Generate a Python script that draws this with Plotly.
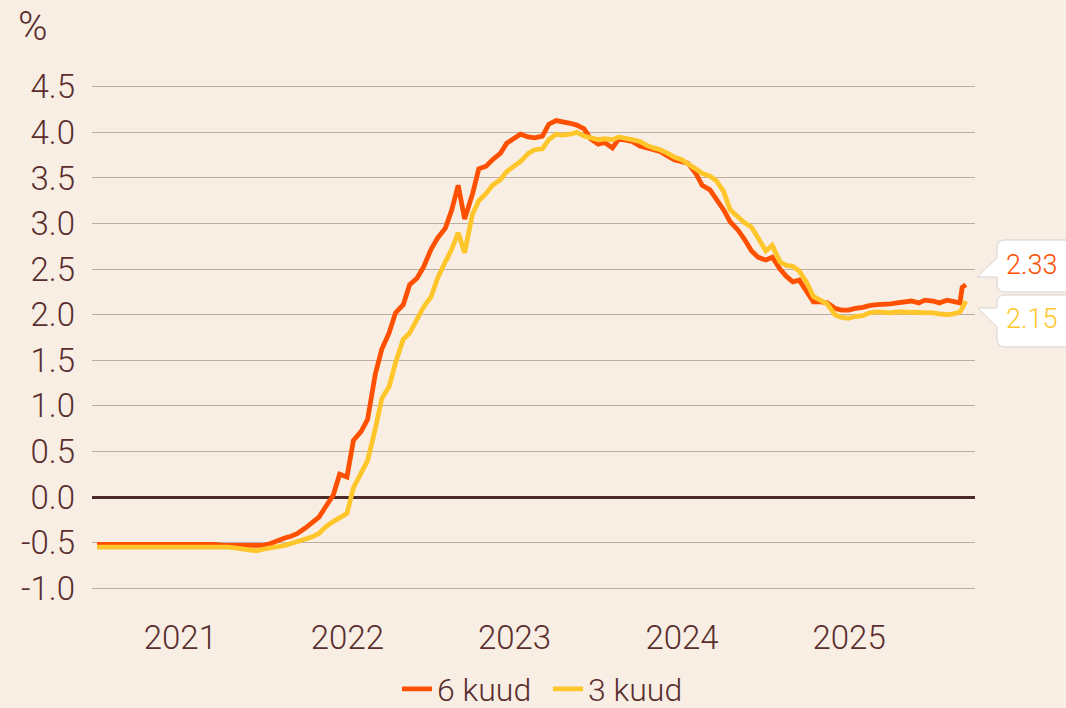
import plotly.graph_objects as go

# ---------------- data ----------------
dates = [
    "2021-01-01", "2021-01-15", "2021-02-01", "2021-02-15", "2021-03-01", "2021-03-15",
    "2021-04-01", "2021-04-15", "2021-05-01", "2021-05-15", "2021-06-01", "2021-06-15",
    "2021-07-01", "2021-07-15", "2021-08-01", "2021-08-15", "2021-09-01", "2021-09-15",
    "2021-10-01", "2021-10-15", "2021-11-01", "2021-11-15", "2021-12-01", "2021-12-15",
    "2022-01-01", "2022-01-15", "2022-02-01", "2022-02-15", "2022-03-01", "2022-03-15",
    "2022-04-01", "2022-04-15", "2022-05-01", "2022-05-15", "2022-06-01", "2022-06-15",
    "2022-07-01", "2022-07-15", "2022-08-01", "2022-08-15", "2022-09-01", "2022-09-15",
    "2022-10-01", "2022-10-15", "2022-11-01", "2022-11-15", "2022-12-01", "2022-12-15",
    "2023-01-01", "2023-01-15", "2023-02-01", "2023-02-15", "2023-03-01", "2023-03-15",
    "2023-04-01", "2023-04-15", "2023-05-01", "2023-05-15", "2023-06-01", "2023-06-15",
    "2023-07-01", "2023-07-15", "2023-08-01", "2023-08-15", "2023-09-01", "2023-09-15",
    "2023-10-01", "2023-10-15", "2023-11-01", "2023-11-15", "2023-12-01", "2023-12-15",
    "2024-01-01", "2024-01-15", "2024-02-01", "2024-02-15", "2024-03-01", "2024-03-15",
    "2024-04-01", "2024-04-15", "2024-05-01", "2024-05-15", "2024-06-01", "2024-06-15",
    "2024-07-01", "2024-07-15", "2024-08-01", "2024-08-15", "2024-09-01", "2024-09-15",
    "2024-10-01", "2024-10-15", "2024-11-01", "2024-11-15", "2024-12-01", "2024-12-15",
    "2025-01-01", "2025-01-15", "2025-02-01", "2025-02-15", "2025-03-01", "2025-03-15",
    "2025-04-01", "2025-04-15", "2025-05-01", "2025-05-15", "2025-06-01", "2025-06-15",
    "2025-07-01", "2025-07-15", "2025-08-01", "2025-08-15", "2025-09-01", "2025-09-15",
    "2025-10-01", "2025-10-15", "2025-11-01", "2025-11-15", "2025-12-01", "2025-12-15",
    "2026-01-01", "2026-01-15", "2026-02-01", "2026-02-15", "2026-03-01", "2026-03-06",
    "2026-03-14",
]

euribor_6m = [
    -0.52, -0.52, -0.52, -0.52, -0.51, -0.51, -0.52, -0.51, -0.51, -0.51, -0.51, -0.51,
    -0.52, -0.52, -0.52, -0.52, -0.52, -0.52, -0.53, -0.53, -0.53, -0.53, -0.54, -0.54,
    -0.53, -0.51, -0.47, -0.45, -0.43, -0.40, -0.34, -0.29, -0.22, -0.11, 0.02, 0.25,
    0.22, 0.62, 0.72, 0.85, 1.35, 1.62, 1.80, 2.02, 2.11, 2.33, 2.40, 2.52,
    2.72, 2.84, 2.95, 3.15, 3.42, 3.05, 3.32, 3.60, 3.63, 3.70, 3.77, 3.88,
    3.93, 3.98, 3.95, 3.94, 3.96, 4.09, 4.13, 4.12, 4.10, 4.08, 4.04, 3.93,
    3.87, 3.89, 3.83, 3.93, 3.91, 3.90, 3.85, 3.83, 3.80, 3.79, 3.74, 3.70,
    3.68, 3.66, 3.55, 3.42, 3.37, 3.27, 3.15, 3.02, 2.93, 2.83, 2.70, 2.63,
    2.60, 2.63, 2.50, 2.42, 2.36, 2.38, 2.25, 2.14, 2.14, 2.13, 2.07, 2.05,
    2.05, 2.07, 2.08, 2.10, 2.11, 2.11, 2.12, 2.13, 2.14, 2.15, 2.13, 2.16,
    2.15, 2.13, 2.16, 2.14, 2.13, 2.30, 2.33,
]

euribor_3m = [
    -0.55, -0.55, -0.55, -0.55, -0.54, -0.54, -0.54, -0.54, -0.54, -0.54, -0.54, -0.55,
    -0.55, -0.55, -0.55, -0.55, -0.55, -0.55, -0.55, -0.55, -0.56, -0.57, -0.58, -0.59,
    -0.57, -0.56, -0.54, -0.53, -0.51, -0.49, -0.46, -0.44, -0.40, -0.33, -0.27, -0.23,
    -0.18, 0.10, 0.28, 0.40, 0.75, 1.08, 1.21, 1.47, 1.73, 1.80, 1.95, 2.08,
    2.20, 2.40, 2.58, 2.72, 2.90, 2.68, 3.10, 3.25, 3.33, 3.42, 3.48, 3.57,
    3.63, 3.68, 3.77, 3.81, 3.82, 3.92, 3.98, 3.97, 3.98, 4.00, 3.96, 3.94,
    3.92, 3.93, 3.92, 3.95, 3.94, 3.92, 3.90, 3.86, 3.83, 3.81, 3.77, 3.73,
    3.70, 3.66, 3.60, 3.55, 3.52, 3.47, 3.35, 3.15, 3.07, 3.01, 2.96, 2.84,
    2.70, 2.76, 2.58, 2.54, 2.53, 2.48, 2.35, 2.20, 2.15, 2.12, 2.00, 1.97,
    1.96, 1.98, 1.99, 2.02, 2.03, 2.02, 2.02, 2.03, 2.03, 2.03, 2.02, 2.02,
    2.02, 2.01, 2.00, 2.01, 2.03, 2.07, 2.15,
]

series_names = ["6 kuud", "3 kuud"]
year_labels = ["2021", "2022", "2023", "2024", "2025"]
year_positions = ["2021-07-02", "2022-07-02", "2023-07-02", "2024-07-02", "2025-07-02"]
y_ticks = [4.5, 4.0, 3.5, 3.0, 2.5, 2.0, 1.5, 1.0, 0.5, 0.0, -0.5, -1.0]
y_ticktext = ["4.5", "4.0", "3.5", "3.0", "2.5", "2.0", "1.5", "1.0", "0.5", "0.0", "-0.5", "-1.0"]
last_labels = ["2.33", "2.15"]

# ---------------- style ----------------
BG = "#f9eee4"
TXT = "#5a2e2e"
GRID = "#bcaca4"
ZERO = "#4b2a2a"
C6 = "#ff5000"
C3 = "#ffc62c"
FONT = "Roboto"

W, H = 1066, 708
L, R, T, B = 92, 91, 85, 118
PW, PH = W - L - R, H - T - B


def px(x):
    return (x - L) / PW


def py(y):
    return (H - B - y) / PH


fig = go.Figure()
fig.add_trace(go.Scatter(x=dates, y=euribor_6m, name=series_names[0], mode="lines",
                         line=dict(color=C6, width=4.8), hoverinfo="skip"))
fig.add_trace(go.Scatter(x=dates, y=euribor_3m, name=series_names[1], mode="lines",
                         line=dict(color=C3, width=4.8), hoverinfo="skip"))

fig.update_layout(
    width=W, height=H,
    paper_bgcolor=BG, plot_bgcolor=BG,
    margin=dict(l=L, r=R, t=T, b=B, autoexpand=False),
    font=dict(family=FONT, color=TXT, size=33, weight=300),
    showlegend=True,
    legend=dict(orientation="h", x=px(397), xanchor="left", y=py(689), yanchor="middle",
                font=dict(size=32, color=TXT, family=FONT, weight=300),
                bgcolor="rgba(0,0,0,0)", itemwidth=30, traceorder="normal",
                entrywidth=106, entrywidthmode="pixels"),
    xaxis=dict(
        type="date",
        range=["2020-12-21", "2026-04-03"],
        tickvals=year_positions, ticktext=year_labels,
        showgrid=False, zeroline=False, showline=False, ticks="",
        tickfont=dict(size=33, color=TXT, family=FONT, weight=300),
        ticklabelstandoff=25, automargin=False,
    ),
    yaxis=dict(
        range=[-1.02, 4.52],
        tickvals=y_ticks, ticktext=y_ticktext,
        showgrid=True, gridcolor=GRID, gridwidth=1,
        zeroline=True, zerolinecolor=ZERO, zerolinewidth=3,
        showline=False, ticks="",
        tickfont=dict(size=33, color=TXT, family=FONT, weight=300),
        ticklabelstandoff=16, automargin=False,
    ),
)

# "%" unit label
fig.add_annotation(text="%", xref="paper", yref="paper", x=px(16), y=py(27),
                   xanchor="left", yanchor="middle", showarrow=False,
                   font=dict(size=40, color=TXT, family=FONT, weight=300))


def bubble(top, bottom, tip_x, tip_y, base_a, base_b):
    left, right, r = 997, 1080, 8

    def P(x, y):
        return f"{px(x):.5f},{py(y):.5f}"
    return (f"M {P(left + r, top)} L {P(right, top)} L {P(right, bottom)} L {P(left + r, bottom)} "
            f"Q {P(left, bottom)} {P(left, bottom - r)} L {P(left, base_b)} L {P(tip_x, tip_y)} "
            f"L {P(left, base_a)} L {P(left, top + r)} Q {P(left, top)} {P(left + r, top)} Z")


fig.add_shape(type="path", xref="paper", yref="paper",
              path=bubble(240, 292, 977, 277, 258, 277),
              fillcolor="white", line=dict(color="#d6d2cf", width=1), layer="above")
fig.add_shape(type="path", xref="paper", yref="paper",
              path=bubble(295, 347, 978, 308, 308, 327),
              fillcolor="white", line=dict(color="#d6d2cf", width=1), layer="above")

fig.add_annotation(text=last_labels[0], xref="paper", yref="paper", x=px(1004), y=py(265),
                   xanchor="left", yanchor="middle", showarrow=False,
                   font=dict(size=27, color=C6, family=FONT, weight=300))
fig.add_annotation(text=last_labels[1], xref="paper", yref="paper", x=px(1004), y=py(319),
                   xanchor="left", yanchor="middle", showarrow=False,
                   font=dict(size=27, color=C3, family=FONT, weight=300))

fig.write_html("out.html", config={"displayModeBar": False},
               post_script="document.body.style.margin='0';document.body.style.overflow='hidden';")
